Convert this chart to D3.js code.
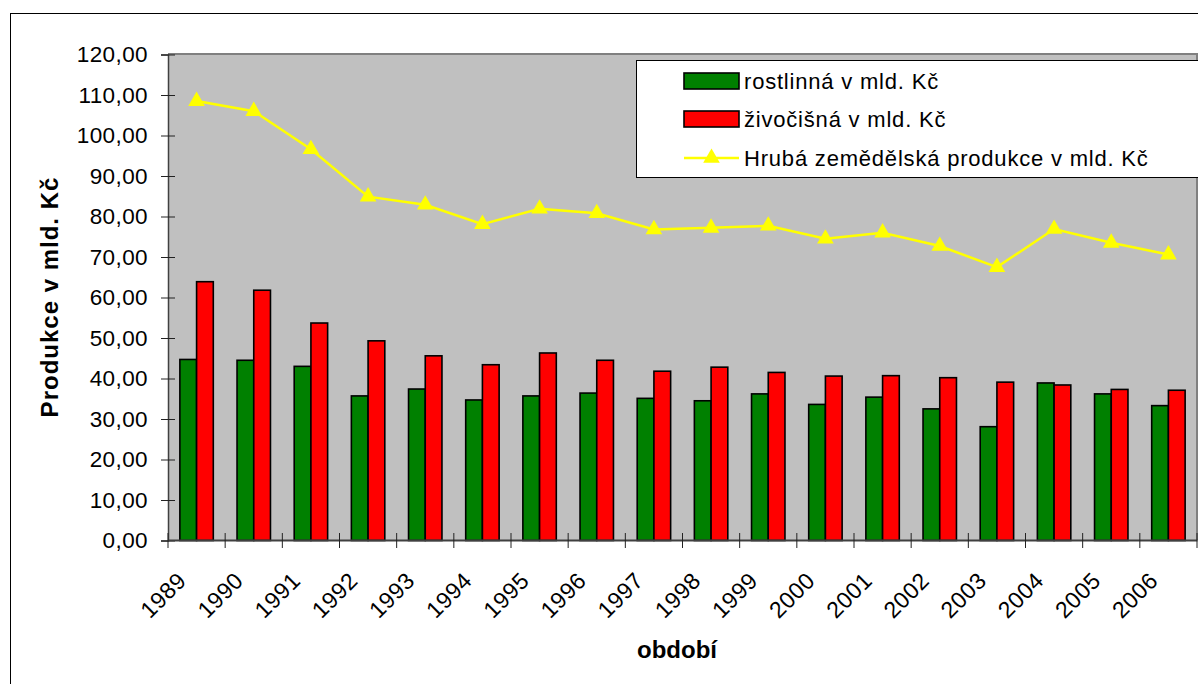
<!DOCTYPE html>
<html>
<head>
<meta charset="utf-8">
<script src="https://cdn.jsdelivr.net/npm/d3@7"></script>
<style>
  body { margin: 0; background: #fff; }
  svg { display: block; font-family: "Liberation Sans", Arial, sans-serif; }
</style>
</head>
<body>
<div class="chart"></div>
<script>
const years = ["1989", "1990", "1991", "1992", "1993", "1994", "1995", "1996", "1997",
  "1998", "1999", "2000", "2001", "2002", "2003", "2004", "2005", "2006"];
const rostlinna = [44.7, 44.5, 43.0, 35.7, 37.4, 34.7, 35.7, 36.4, 35.1,
  34.5, 36.2, 33.6, 35.4, 32.5, 28.1, 38.9, 36.2, 33.3];
const zivocisna = [63.9, 61.8, 53.7, 49.3, 45.6, 43.4, 46.3, 44.5, 41.8,
  42.8, 41.5, 40.6, 40.7, 40.2, 39.1, 38.4, 37.3, 37.1];
const hruba = [108.5, 106.0, 96.6, 84.9, 82.9, 78.1, 81.9, 80.8, 76.8,
  77.2, 77.7, 74.5, 76.0, 72.7, 67.5, 76.9, 73.5, 70.6];
const yTicks = [0, 10, 20, 30, 40, 50, 60, 70, 80, 90, 100, 110, 120];
const seriesNames = ["rostlinná v mld. Kč", "živočišná v mld. Kč", "Hrubá zemědělská produkce v mld. Kč"];

const W = 1198, H = 684;
const plot = {left: 168, top: 54, right: 1197, bottom: 540};

const cz = d3.formatLocale({decimal: ",", thousands: " ", grouping: [3], currency: ["", " Kč"]});
const fmt = cz.format(".2f");

const svg = d3.select(".chart")
  .append("svg")
  .attr("width", W)
  .attr("height", H);

// outer frame
svg.append("rect")
  .attr("x", 10.5).attr("y", 13.5)
  .attr("width", 1300).attr("height", 800)
  .attr("fill", "#fff")
  .attr("stroke", "#000");

const x0 = d3.scaleBand()
  .domain(years)
  .range([plot.left, plot.right])
  .padding(0);

const x1 = d3.scaleBand()
  .domain(["r", "z"])
  .range([0, x0.bandwidth()])
  .paddingInner(0)
  .paddingOuter(0.71);

const y = d3.scaleLinear()
  .domain([0, 120])
  .range([plot.bottom + 0.5, plot.top + 0.5]);

// plot area
svg.append("rect")
  .attr("x", plot.left).attr("y", plot.top)
  .attr("width", plot.right - plot.left).attr("height", plot.bottom - plot.top)
  .attr("fill", "#c0c0c0");
svg.append("path")
  .attr("d", `M${plot.left},${plot.top}H${plot.right}V${plot.bottom}`)
  .attr("fill", "none")
  .attr("stroke", "#808080")
  .attr("stroke-width", 2);

// bars
const groups = svg.selectAll("g.year")
  .data(years)
  .enter()
  .append("g")
  .attr("class", "year")
  .attr("transform", d => `translate(${x0(d)},0)`);

groups.append("rect")
  .attr("x", x1("r"))
  .attr("y", (d, i) => y(rostlinna[i]))
  .attr("width", x1.bandwidth())
  .attr("height", (d, i) => y(0) - y(rostlinna[i]))
  .attr("fill", "#008000")
  .attr("stroke", "#000")
  .attr("stroke-width", 1.6);

groups.append("rect")
  .attr("x", x1("z"))
  .attr("y", (d, i) => y(zivocisna[i]))
  .attr("width", x1.bandwidth())
  .attr("height", (d, i) => y(0) - y(zivocisna[i]))
  .attr("fill", "#ff0000")
  .attr("stroke", "#000")
  .attr("stroke-width", 1.6);

// Y axis
const yAxis = svg.append("g")
  .attr("transform", `translate(${plot.left},0)`)
  .call(d3.axisLeft(y).tickValues(yTicks).tickFormat(fmt).tickSize(7).tickPadding(13));
yAxis.select(".domain").attr("stroke", "#404040").attr("stroke-width", 1.5);
yAxis.selectAll(".tick line").attr("x1", 7).attr("stroke", "#222");
yAxis.selectAll(".tick text")
  .attr("font-size", 22.5)
  .attr("font-family", "Liberation Sans, Arial, sans-serif")
  .style("letter-spacing", "0.4px")
  .attr("fill", "#000");

// X axis
const xAxis = svg.append("g")
  .attr("transform", `translate(0,${plot.bottom})`)
  .call(d3.axisBottom(x0).tickSize(0).tickFormat(d => d));
xAxis.select(".domain").attr("stroke", "#404040").attr("stroke-width", 2);
xAxis.selectAll(".tick text")
  .attr("font-size", 23)
  .attr("font-family", "Liberation Sans, Arial, sans-serif")
  .style("letter-spacing", "0.5px")
  .attr("fill", "#000")
  .attr("text-anchor", "end")
  .attr("x", -9)
  .attr("y", 42)
  .attr("dy", 0)
  .attr("transform", "rotate(-45 -9 42)");

const bounds = years.map(d => x0(d)).concat([plot.right]);
svg.append("g")
  .selectAll("line")
  .data(bounds)
  .enter()
  .append("line")
  .attr("x1", d => d).attr("x2", d => d)
  .attr("y1", plot.bottom - 7).attr("y2", plot.bottom + 8)
  .attr("stroke", "#222");

// total line
const line = d3.line()
  .x((d, i) => x0(years[i]) + x0.bandwidth() / 2)
  .y(d => y(d));

svg.append("path")
  .datum(hruba)
  .attr("d", line)
  .attr("fill", "none")
  .attr("stroke", "#ffff00")
  .attr("stroke-width", 2.5);

const tri = d3.symbol(d3.symbolTriangle, 120);
svg.selectAll("path.marker")
  .data(hruba)
  .enter()
  .append("path")
  .attr("class", "marker")
  .attr("d", tri)
  .attr("transform", (d, i) => `translate(${x0(years[i]) + x0.bandwidth() / 2},${y(d)})`)
  .attr("fill", "#ffff00");

// axis titles
svg.append("text")
  .attr("transform", "translate(58,297) rotate(-90)")
  .attr("text-anchor", "middle")
  .attr("font-size", 24)
  .attr("font-weight", "bold")
  .style("letter-spacing", "1px")
  .text("Produkce v mld. Kč");

svg.append("text")
  .attr("x", 677)
  .attr("y", 658)
  .attr("text-anchor", "middle")
  .attr("font-size", 24)
  .attr("font-weight", "bold")
  .text("období");

// legend
const legend = svg.append("g");
legend.append("rect")
  .attr("x", 636.5).attr("y", 60.5)
  .attr("width", 700).attr("height", 117)
  .attr("fill", "#fff")
  .attr("stroke", "#000");

const rowY = [81, 119, 158];
const swatchX = 684, swatchW = 55;
legend.append("rect")
  .attr("x", swatchX).attr("y", rowY[0] - 8)
  .attr("width", swatchW).attr("height", 16)
  .attr("fill", "#008000").attr("stroke", "#000").attr("stroke-width", 1.6);
legend.append("rect")
  .attr("x", swatchX).attr("y", rowY[1] - 8)
  .attr("width", swatchW).attr("height", 16)
  .attr("fill", "#ff0000").attr("stroke", "#000").attr("stroke-width", 1.6);
legend.append("line")
  .attr("x1", swatchX).attr("x2", swatchX + swatchW)
  .attr("y1", rowY[2]).attr("y2", rowY[2])
  .attr("stroke", "#ffff00").attr("stroke-width", 2.5);
legend.append("path")
  .attr("d", tri)
  .attr("transform", `translate(${swatchX + swatchW / 2},${rowY[2]})`)
  .attr("fill", "#ffff00");

legend.selectAll("text")
  .data(seriesNames)
  .enter()
  .append("text")
  .attr("x", 744)
  .attr("y", (d, i) => rowY[i] + 8)
  .attr("font-size", 22)
  .style("letter-spacing", "0.8px")
  .text(d => d);
</script>
</body>
</html>
